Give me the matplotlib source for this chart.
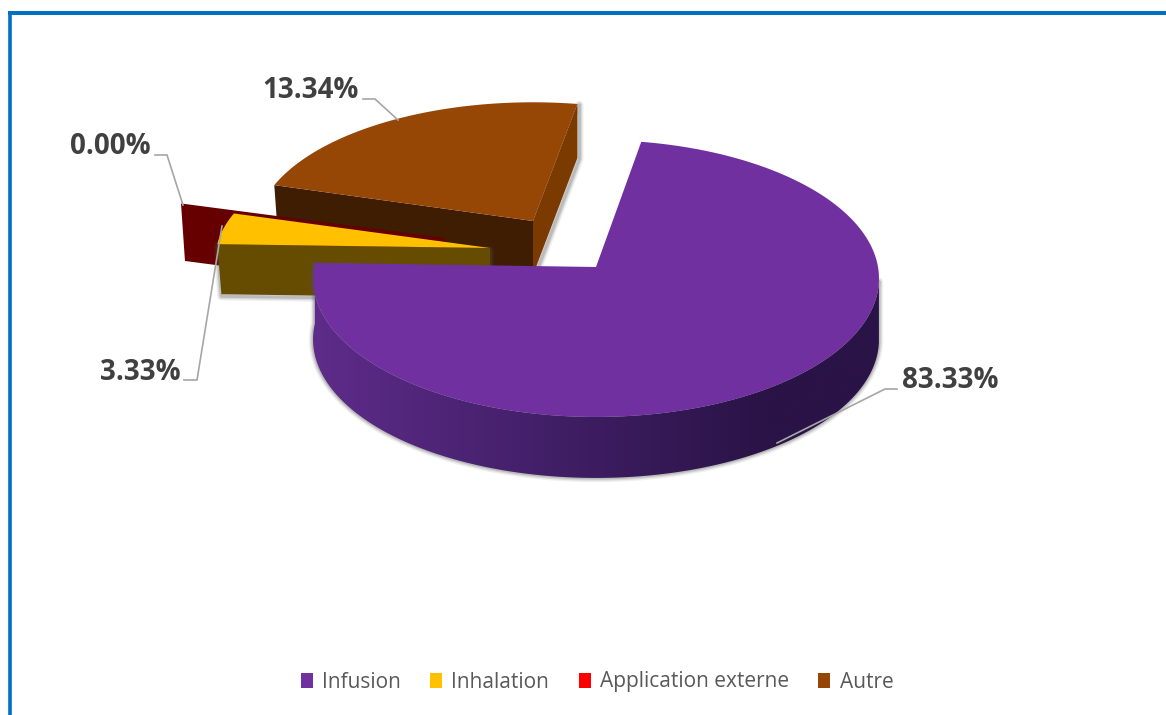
import numpy as np
import matplotlib
matplotlib.use("Agg")
import matplotlib.pyplot as plt
from matplotlib.patches import Polygon, Patch
from matplotlib.colors import LinearSegmentedColormap

categories = ["Infusion", "Inhalation", "Application externe", "Autre"]
shares = [83.33, 3.33, 0.00, 13.34]
share_labels = ["83.33%", "3.33%", "0.00%", "13.34%"]
top_colors = ["#7030A0", "#FFC000", "#FF0000", "#964605"]
side_colors = ["#5A2A85", "#664C00", "#660000", "#3E1D02"]

fig = plt.figure(figsize=(11.66, 7.15), dpi=100)
ax = fig.add_axes([0, 0, 1, 1])
ax.set_xlim(0, 1166)
ax.set_ylim(715, 0)
ax.axis("off")

# Card outline: top and left edges only
ax.plot([7.5, 1166], [13, 13], color="#0070C0", lw=2.9, solid_capstyle="butt")
ax.plot([9.5, 9.5], [11.5, 715], color="#0070C0", lw=2.6, solid_capstyle="butt")

RX, RY, PERSP = 282.0, 137.5, 0.083
VIEW_START, VIEW_SQUEEZE = 10.0, 2.0


def view_angle(t):
    """Angle on the tilted disc for a cumulative angle t, under the oblique camera."""
    half = np.radians(np.asarray(t, dtype=float)) / 2
    return VIEW_START + 2 * np.degrees(np.arctan2(VIEW_SQUEEZE * np.sin(half), np.cos(half)))


def rim(s, apex, sx=1.0, sy=1.0):
    """Project points on the disc edge (clockwise degrees from the back) to the canvas."""
    a = np.radians(np.atleast_1d(s))
    den = 1 + PERSP * np.cos(a)
    x = apex[0] + sx * RX * np.sin(a) / den
    y = apex[1] - sy * RY * np.cos(a) / den
    return np.column_stack([x, y])


def soft_shadow(pts, z):
    for lw, alpha in ((6, 0.09), (4, 0.15), (2.2, 0.22)):
        ax.add_patch(Polygon(pts, closed=True, fc="none", ec="#555555", lw=lw, alpha=alpha,
                             joinstyle="round", zorder=z))


def flat_wall(edge_pt, apex, depth, color, z, taper=0.985):
    low_apex = np.array([apex[0], apex[1] + depth])
    low_edge = low_apex + (edge_pt - np.array(apex)) * taper
    pts = np.array([edge_pt, apex, low_apex, low_edge])
    ax.add_patch(Polygon(pts, closed=True, fc=color, ec="none", zorder=z))
    return pts


# Slice boundaries from the shares
edges = np.concatenate([[0], np.cumsum(shares)]) * 3.6
view = view_angle(edges)

# "Autre": pulled back, with its two cut faces
autre_apex = (533, 221)
autre_depth = 54
arc = np.linspace(view[3], view[4], 80)
autre_top = rim(arc, autre_apex, 0.98, 0.935)
right_pts = np.array([autre_top[-1], autre_top[-1] + [0, autre_depth],
                      [autre_apex[0], autre_apex[1] + autre_depth], autre_apex])
soft_shadow(right_pts + [2, 1], 1)
ax.add_patch(Polygon(right_pts, closed=True, fc="#7A3A00", ec="none", zorder=2))
flat_wall(autre_top[0], autre_apex, autre_depth, side_colors[3], 2)
ax.add_patch(Polygon(np.vstack([[autre_apex], autre_top]), closed=True, fc=top_colors[3], ec="none", zorder=3))

# "Application externe": a zero-width slice, so only its cut face shows
red_apex = (445, 238)
red_edge = rim(view[2], red_apex, 1.0, 0.9)[0]
flat_wall(red_edge, red_apex, 57, side_colors[2], 4)

# "Inhalation"
yellow_apex = (490, 248)
arc = np.linspace(view[1], view[2], 30)
yellow_top = rim(arc, yellow_apex, 0.97, 0.9)
yellow_wall = flat_wall(yellow_top[0], yellow_apex, 50, side_colors[1], 6)
soft_shadow(yellow_wall + [0, 2], 4.5)
ax.add_patch(Polygon(np.vstack([[yellow_apex], yellow_top]), closed=True, fc=top_colors[1], ec="none", zorder=7))

# "Infusion": outer wall with left-to-right shading, then the top face
main_apex = (596, 267)
main_depth = 61
wall_arc = np.linspace(96, view[1], 240)
wall_top = rim(wall_arc, main_apex)
wall_pts = np.vstack([wall_top, (wall_top + [0, main_depth])[::-1]])
soft_shadow(wall_pts, 7.5)
wall_patch = Polygon(wall_pts, closed=True, fc="none", ec="none", zorder=8)
ax.add_patch(wall_patch)
shade = LinearSegmentedColormap.from_list(
    "wall", [(0.0, "#5E2C8A"), (0.45, "#3F1E64"), (0.8, "#2A1346"), (1.0, "#2A1346")])
img = ax.imshow(np.linspace(0, 1, 256)[None, :], cmap=shade, extent=(313, 880, 490, 250),
                aspect="auto", zorder=8, interpolation="bilinear")
img.set_clip_path(wall_patch)
ax.set_xlim(0, 1166)
ax.set_ylim(715, 0)
arc = np.linspace(view[0], view[1], 300)
ax.add_patch(Polygon(np.vstack([[main_apex], rim(arc, main_apex)]), closed=True,
                     fc=top_colors[0], ec="none", zorder=9))

# Leader lines and value labels
leaders = [
    [(897, 389), (885, 389), (777, 443)],
    [(184, 380), (197, 380), (222, 226)],
    [(155, 155), (167, 155), (183, 205)],
    [(363, 99), (375, 99), (398, 120)],
]
label_pos = [(950, 381), (140, 373), (110, 146), (310, 90)]
for line, label, pos in zip(leaders, share_labels, label_pos):
    xs, ys = zip(*line)
    ax.plot(xs, ys, color="#A6A6A6", lw=1.2, zorder=10, solid_joinstyle="miter")
    ax.text(pos[0], pos[1], label, ha="center", va="center", family="Open Sans",
            fontweight="bold", fontsize=20, color="#404040", zorder=11)

handles = [Patch(fc=c, ec="none", label=n) for c, n in zip(top_colors, categories)]
ax.legend(handles=handles, ncol=4, frameon=False, loc="center",
          bbox_to_anchor=(597 / 1166, 1 - 682 / 715), bbox_transform=fig.transFigure,
          prop={"family": "Open Sans", "size": 15}, labelcolor="#595959",
          handlelength=0.58, handleheight=0.7, handletextpad=0.45, columnspacing=1.4,
          borderpad=0, borderaxespad=0)

fig.savefig("out.png", dpi=100, facecolor="white")
